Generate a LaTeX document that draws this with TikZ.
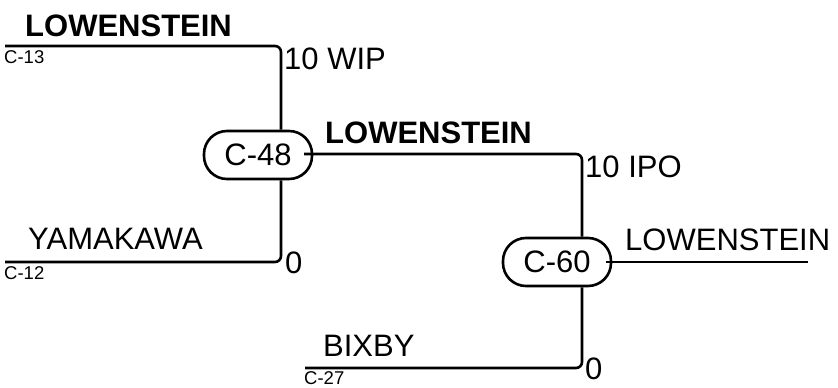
\documentclass[tikz,border=0pt]{standalone}
\usepackage{fontspec}
\setmainfont{Liberation Sans}
\begin{document}
\begin{tikzpicture}[x=1pt,y=-1pt,
  wire/.style={line width=2.6pt, rounded corners=6pt},
  match/.style={draw, line width=2.6pt, rounded corners=23pt, minimum width=108pt, minimum height=48pt, inner sep=0pt, font=\fontsize{31}{31}\selectfont},
  big/.style={inner sep=0pt, anchor=base west, font=\fontsize{31}{31}\selectfont},
  bigb/.style={inner sep=0pt, anchor=base west, font=\fontsize{31}{31}\selectfont\bfseries},
  small/.style={inner sep=0pt, anchor=base west, font=\fontsize{18.5}{18.5}\selectfont}]
\useasboundingbox (0,0) rectangle (838,388);
% match nodes
\node[match] (n48) at (258,155) {C-48};
\node[match] (n60) at (557,262) {C-60};
% free ends and column positions
\coordinate (c13) at (5,46);
\coordinate (c12) at (5,262);
\coordinate (c27) at (305,368);
\coordinate (v1) at (281,0);
\coordinate (v2) at (582,0);
\coordinate (o48) at (304,154);
\coordinate (o60) at (606,262);
\coordinate (end60) at (808,262);
% connectors
\draw[wire] (c13) -| (n48.north -| v1);
\draw[wire] (c12) -| (n48.south -| v1);
\draw[wire] (o48) -| (n60.north -| v2);
\draw[wire] (c27) -| (n60.south -| v2);
\draw[wire] (o60) -- (end60);
% labels
\node[bigb] (l1) at (25,36) {LOWENSTEIN};
\node[small] (s13) at (4,63) {C-13};
\node[big] (w1) at (284,69) {10 WIP};
\node[big] (y1) at (28,249) {YAMAKAWA};
\node[small] (s12) at (4,279) {C-12};
\node[big] (z1) at (285,273) {0};
\node[bigb] (l2) at (325,143) {LOWENSTEIN};
\node[big] (w2) at (585,177) {10 IPO};
\node[big] (b1) at (323,356) {BIXBY};
\node[small] (s27) at (304,384.5) {C-27};
\node[big] (z2) at (585,379) {0};
\node[big] (l3) at (625,250) {LOWENSTEIN};
\end{tikzpicture}
\end{document}
